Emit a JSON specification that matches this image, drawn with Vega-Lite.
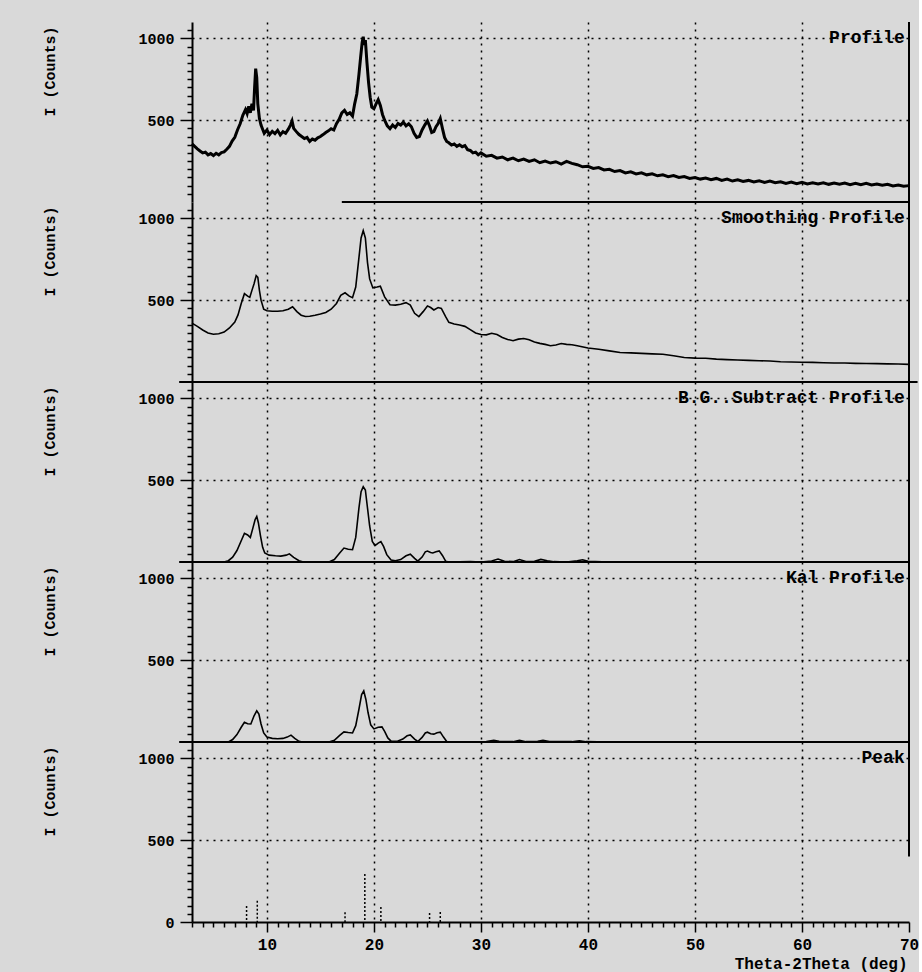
{
"$schema": "https://vega.github.io/schema/vega-lite/v6.json",
"background": "#d9d9d9",
"padding": {"left": 42, "top": 21, "right": 0, "bottom": 12},
"spacing": 0,
"bounds": "flush",
"datasets": {
"profile": [
{"x":3.0,"y":355},{"x":3.25,"y":340},{"x":3.5,"y":325},{"x":3.75,"y":312},{"x":4.0,"y":300},{"x":4.25,"y":305},{"x":4.5,"y":288},{"x":4.75,"y":296},{"x":5.0,"y":284},{"x":5.25,"y":298},{"x":5.5,"y":288},{"x":5.75,"y":302},{"x":6.0,"y":306},{"x":6.25,"y":322},{"x":6.5,"y":340},{"x":6.75,"y":372},{"x":7.0,"y":395},{"x":7.25,"y":440},{"x":7.5,"y":478},{"x":7.75,"y":530},{"x":8.0,"y":565},{"x":8.15,"y":540},{"x":8.3,"y":585},{"x":8.45,"y":545},{"x":8.6,"y":600},{"x":8.75,"y":560},{"x":8.85,"y":700},{"x":8.95,"y":815},{"x":9.05,"y":760},{"x":9.15,"y":600},{"x":9.3,"y":510},{"x":9.45,"y":470},{"x":9.6,"y":445},{"x":9.75,"y":420},{"x":10.0,"y":440},{"x":10.25,"y":412},{"x":10.5,"y":432},{"x":10.75,"y":418},{"x":11.0,"y":438},{"x":11.25,"y":410},{"x":11.5,"y":430},{"x":11.75,"y":420},{"x":12.0,"y":445},{"x":12.2,"y":470},{"x":12.35,"y":495},{"x":12.5,"y":450},{"x":12.75,"y":430},{"x":13.0,"y":412},{"x":13.25,"y":400},{"x":13.5,"y":388},{"x":13.75,"y":395},{"x":14.0,"y":370},{"x":14.25,"y":385},{"x":14.5,"y":378},{"x":14.75,"y":392},{"x":15.0,"y":400},{"x":15.25,"y":412},{"x":15.5,"y":425},{"x":15.75,"y":435},{"x":16.0,"y":448},{"x":16.25,"y":440},{"x":16.5,"y":478},{"x":16.75,"y":505},{"x":17.0,"y":545},{"x":17.25,"y":560},{"x":17.5,"y":535},{"x":17.75,"y":545},{"x":18.0,"y":525},{"x":18.2,"y":600},{"x":18.4,"y":660},{"x":18.6,"y":780},{"x":18.75,"y":880},{"x":18.9,"y":975},{"x":19.0,"y":1010},{"x":19.1,"y":960},{"x":19.2,"y":990},{"x":19.35,"y":850},{"x":19.5,"y":730},{"x":19.65,"y":640},{"x":19.8,"y":580},{"x":20.0,"y":570},{"x":20.2,"y":600},{"x":20.4,"y":625},{"x":20.6,"y":590},{"x":20.8,"y":535},{"x":21.0,"y":500},{"x":21.25,"y":465},{"x":21.5,"y":448},{"x":21.75,"y":470},{"x":22.0,"y":455},{"x":22.25,"y":480},{"x":22.5,"y":470},{"x":22.75,"y":488},{"x":23.0,"y":465},{"x":23.25,"y":478},{"x":23.5,"y":460},{"x":23.75,"y":420},{"x":24.0,"y":395},{"x":24.25,"y":400},{"x":24.5,"y":440},{"x":24.75,"y":470},{"x":25.0,"y":495},{"x":25.2,"y":465},{"x":25.4,"y":425},{"x":25.6,"y":430},{"x":25.8,"y":460},{"x":26.0,"y":480},{"x":26.2,"y":510},{"x":26.4,"y":450},{"x":26.6,"y":395},{"x":26.8,"y":370},{"x":27.0,"y":362},{"x":27.25,"y":348},{"x":27.5,"y":355},{"x":27.75,"y":340},{"x":28.0,"y":350},{"x":28.25,"y":338},{"x":28.5,"y":345},{"x":28.75,"y":320},{"x":29.0,"y":315},{"x":29.25,"y":300},{"x":29.5,"y":305},{"x":29.75,"y":288},{"x":30.0,"y":300},{"x":30.5,"y":280},{"x":31.0,"y":285},{"x":31.5,"y":268},{"x":32.0,"y":275},{"x":32.5,"y":258},{"x":33.0,"y":268},{"x":33.5,"y":252},{"x":34.0,"y":262},{"x":34.5,"y":248},{"x":35.0,"y":258},{"x":35.5,"y":240},{"x":36.0,"y":250},{"x":36.5,"y":238},{"x":37.0,"y":246},{"x":37.5,"y":232},{"x":38.0,"y":248},{"x":38.5,"y":236},{"x":39.0,"y":228},{"x":39.5,"y":215},{"x":40.0,"y":218},{"x":40.5,"y":205},{"x":41.0,"y":210},{"x":41.5,"y":196},{"x":42.0,"y":200},{"x":42.5,"y":186},{"x":43.0,"y":192},{"x":43.5,"y":178},{"x":44.0,"y":184},{"x":44.5,"y":172},{"x":45.0,"y":178},{"x":45.5,"y":166},{"x":46.0,"y":172},{"x":46.5,"y":160},{"x":47.0,"y":166},{"x":47.5,"y":155},{"x":48.0,"y":162},{"x":48.5,"y":150},{"x":49.0,"y":156},{"x":49.5,"y":144},{"x":50.0,"y":150},{"x":50.5,"y":140},{"x":51.0,"y":146},{"x":51.5,"y":136},{"x":52.0,"y":144},{"x":52.5,"y":132},{"x":53.0,"y":140},{"x":53.5,"y":128},{"x":54.0,"y":136},{"x":54.5,"y":126},{"x":55.0,"y":132},{"x":55.5,"y":122},{"x":56.0,"y":130},{"x":56.5,"y":120},{"x":57.0,"y":128},{"x":57.5,"y":118},{"x":58.0,"y":124},{"x":58.5,"y":114},{"x":59.0,"y":122},{"x":59.5,"y":112},{"x":60.0,"y":120},{"x":60.5,"y":110},{"x":61.0,"y":118},{"x":61.5,"y":110},{"x":62.0,"y":118},{"x":62.5,"y":108},{"x":63.0,"y":116},{"x":63.5,"y":108},{"x":64.0,"y":116},{"x":64.5,"y":106},{"x":65.0,"y":114},{"x":65.5,"y":106},{"x":66.0,"y":114},{"x":66.5,"y":104},{"x":67.0,"y":110},{"x":67.5,"y":102},{"x":68.0,"y":108},{"x":68.5,"y":98},{"x":69.0,"y":104},{"x":69.5,"y":96},{"x":70.0,"y":100}
],
"smooth": [
{"x":3.0,"y":360},{"x":3.5,"y":340},{"x":4.0,"y":318},{"x":4.5,"y":300},{"x":5.0,"y":292},{"x":5.5,"y":295},{"x":6.0,"y":305},{"x":6.5,"y":330},{"x":7.0,"y":366},{"x":7.3,"y":410},{"x":7.6,"y":480},{"x":7.9,"y":540},{"x":8.2,"y":525},{"x":8.4,"y":518},{"x":8.6,"y":560},{"x":8.8,"y":600},{"x":9.0,"y":650},{"x":9.15,"y":640},{"x":9.3,"y":560},{"x":9.45,"y":500},{"x":9.7,"y":445},{"x":10.0,"y":435},{"x":10.5,"y":432},{"x":11.0,"y":432},{"x":11.5,"y":435},{"x":12.0,"y":445},{"x":12.4,"y":460},{"x":12.8,"y":430},{"x":13.2,"y":408},{"x":13.6,"y":400},{"x":14.0,"y":402},{"x":14.5,"y":408},{"x":15.0,"y":415},{"x":15.5,"y":425},{"x":16.0,"y":445},{"x":16.5,"y":480},{"x":16.9,"y":530},{"x":17.3,"y":545},{"x":17.7,"y":525},{"x":18.0,"y":515},{"x":18.3,"y":580},{"x":18.6,"y":760},{"x":18.8,"y":880},{"x":19.0,"y":925},{"x":19.2,"y":880},{"x":19.4,"y":730},{"x":19.6,"y":630},{"x":19.9,"y":575},{"x":20.3,"y":580},{"x":20.6,"y":585},{"x":21.0,"y":520},{"x":21.5,"y":472},{"x":22.0,"y":470},{"x":22.5,"y":475},{"x":23.0,"y":485},{"x":23.4,"y":470},{"x":23.8,"y":420},{"x":24.2,"y":400},{"x":24.6,"y":430},{"x":25.0,"y":465},{"x":25.3,"y":455},{"x":25.6,"y":440},{"x":26.0,"y":455},{"x":26.3,"y":450},{"x":26.7,"y":400},{"x":27.0,"y":365},{"x":27.5,"y":355},{"x":28.0,"y":348},{"x":28.5,"y":340},{"x":29.0,"y":320},{"x":29.5,"y":300},{"x":30.0,"y":290},{"x":30.5,"y":288},{"x":31.0,"y":298},{"x":31.5,"y":290},{"x":32.0,"y":272},{"x":32.5,"y":260},{"x":33.0,"y":252},{"x":33.5,"y":262},{"x":34.0,"y":266},{"x":34.5,"y":258},{"x":35.0,"y":245},{"x":35.5,"y":236},{"x":36.0,"y":230},{"x":36.5,"y":222},{"x":37.0,"y":226},{"x":37.5,"y":235},{"x":38.0,"y":230},{"x":38.5,"y":228},{"x":39.0,"y":222},{"x":40.0,"y":208},{"x":41.0,"y":200},{"x":42.0,"y":190},{"x":43.0,"y":180},{"x":44.0,"y":178},{"x":45.0,"y":175},{"x":46.0,"y":172},{"x":47.0,"y":170},{"x":48.0,"y":160},{"x":49.0,"y":150},{"x":50.0,"y":146},{"x":51.0,"y":145},{"x":52.0,"y":140},{"x":53.0,"y":137},{"x":54.0,"y":134},{"x":55.0,"y":132},{"x":56.0,"y":130},{"x":57.0,"y":128},{"x":58.0,"y":124},{"x":59.0,"y":122},{"x":60.0,"y":121},{"x":61.0,"y":120},{"x":62.0,"y":118},{"x":63.0,"y":116},{"x":64.0,"y":116},{"x":65.0,"y":114},{"x":66.0,"y":113},{"x":67.0,"y":112},{"x":68.0,"y":111},{"x":69.0,"y":110},{"x":70.0,"y":108}
],
"bgsub": [
{"x":3.0,"y":0},{"x":6.0,"y":0},{"x":6.4,"y":8},{"x":6.8,"y":30},{"x":7.2,"y":70},{"x":7.6,"y":130},{"x":7.9,"y":175},{"x":8.2,"y":165},{"x":8.45,"y":150},{"x":8.7,"y":210},{"x":8.9,"y":260},{"x":9.05,"y":278},{"x":9.2,"y":240},{"x":9.4,"y":160},{"x":9.6,"y":90},{"x":9.8,"y":55},{"x":10.2,"y":42},{"x":10.8,"y":38},{"x":11.3,"y":36},{"x":11.8,"y":42},{"x":12.1,"y":50},{"x":12.5,"y":28},{"x":13.0,"y":8},{"x":13.4,"y":0},{"x":15.8,"y":0},{"x":16.3,"y":15},{"x":16.8,"y":55},{"x":17.2,"y":85},{"x":17.6,"y":78},{"x":18.0,"y":75},{"x":18.3,"y":150},{"x":18.6,"y":330},{"x":18.8,"y":430},{"x":19.0,"y":460},{"x":19.2,"y":440},{"x":19.4,"y":330},{"x":19.6,"y":220},{"x":19.85,"y":125},{"x":20.1,"y":100},{"x":20.4,"y":115},{"x":20.65,"y":125},{"x":20.9,"y":95},{"x":21.2,"y":45},{"x":21.6,"y":12},{"x":22.0,"y":8},{"x":22.5,"y":15},{"x":23.0,"y":38},{"x":23.4,"y":48},{"x":23.8,"y":22},{"x":24.1,"y":5},{"x":24.5,"y":30},{"x":24.8,"y":62},{"x":25.0,"y":67},{"x":25.3,"y":58},{"x":25.5,"y":55},{"x":25.8,"y":62},{"x":26.1,"y":68},{"x":26.4,"y":40},{"x":26.7,"y":5},{"x":27.0,"y":0},{"x":29.0,"y":2},{"x":30.0,"y":0},{"x":31.0,"y":6},{"x":31.6,"y":18},{"x":32.2,"y":5},{"x":33.0,"y":2},{"x":33.6,"y":15},{"x":34.2,"y":3},{"x":35.0,"y":4},{"x":35.6,"y":16},{"x":36.2,"y":8},{"x":36.8,"y":2},{"x":38.0,"y":0},{"x":39.0,"y":8},{"x":39.5,"y":14},{"x":40.0,"y":4},{"x":42.0,"y":0},{"x":70.0,"y":0}
],
"kal": [
{"x":3.0,"y":0},{"x":6.4,"y":0},{"x":6.8,"y":15},{"x":7.2,"y":45},{"x":7.6,"y":90},{"x":7.9,"y":120},{"x":8.2,"y":112},{"x":8.5,"y":110},{"x":8.8,"y":160},{"x":9.05,"y":190},{"x":9.25,"y":170},{"x":9.45,"y":110},{"x":9.7,"y":55},{"x":10.0,"y":30},{"x":10.5,"y":22},{"x":11.0,"y":20},{"x":11.5,"y":22},{"x":11.9,"y":30},{"x":12.25,"y":42},{"x":12.6,"y":22},{"x":13.0,"y":4},{"x":13.3,"y":0},{"x":15.8,"y":0},{"x":16.3,"y":10},{"x":16.8,"y":40},{"x":17.2,"y":62},{"x":17.6,"y":58},{"x":18.0,"y":55},{"x":18.3,"y":100},{"x":18.6,"y":200},{"x":18.85,"y":290},{"x":19.05,"y":312},{"x":19.25,"y":260},{"x":19.45,"y":180},{"x":19.7,"y":105},{"x":20.0,"y":80},{"x":20.4,"y":90},{"x":20.75,"y":92},{"x":21.0,"y":65},{"x":21.3,"y":25},{"x":21.6,"y":5},{"x":22.2,"y":5},{"x":22.7,"y":18},{"x":23.1,"y":38},{"x":23.4,"y":43},{"x":23.8,"y":18},{"x":24.1,"y":3},{"x":24.5,"y":28},{"x":24.8,"y":55},{"x":25.0,"y":60},{"x":25.3,"y":50},{"x":25.6,"y":48},{"x":25.9,"y":56},{"x":26.2,"y":60},{"x":26.5,"y":30},{"x":26.8,"y":3},{"x":27.2,"y":0},{"x":29.0,"y":0},{"x":30.5,"y":3},{"x":31.2,"y":10},{"x":31.7,"y":4},{"x":33.0,"y":2},{"x":33.6,"y":10},{"x":34.2,"y":2},{"x":35.3,"y":4},{"x":35.8,"y":10},{"x":36.4,"y":3},{"x":38.5,"y":2},{"x":39.2,"y":7},{"x":39.8,"y":2},{"x":42.0,"y":0},{"x":70.0,"y":0}
],
"peaks": [
{"x":8.1,"y":98},{"x":9.1,"y":130},{"x":17.3,"y":60},{"x":19.15,"y":293},{"x":20.65,"y":92},{"x":25.2,"y":55},{"x":26.2,"y":61}
]
},
"vconcat": [
{
"width": 717, "height": 180,
"layer": [
{"data": {"name": "profile"}, "mark": {"type": "line", "color": "black", "strokeWidth": 3},
 "encoding": {
  "x": {"field": "x", "type": "quantitative", "scale": {"domain": [3, 70], "nice": false, "zero": false},
        "axis": {"title": null, "values": [10,20,30,40,50,60], "tickCount": 1000, "labels": false, "ticks": false, "domain": false, "grid": true}},
  "y": {"field": "y", "type": "quantitative", "scale": {"domain": [0, 1100], "nice": false},
        "axis": {"title": "I (Counts)", "tickCount": 1000, "values": [50,100,150,200,250,300,350,400,450,500,550,600,650,700,750,800,850,900,950,1000,1050],
                 "labelExpr": "datum.value === 500 || datum.value === 1000 ? datum.label : ''",
                 "tickSize": {"condition": {"test": "datum.value % 500 === 0", "value": 12}, "value": 5},
                 "gridOpacity": {"condition": {"test": "datum.value === 500 || datum.value === 1000", "value": 1}, "value": 0}}}
 }},
{"data": {"values": [{}]}, "mark": {"type": "rule", "color": "black", "strokeWidth": 2},
 "encoding": {"x": {"datum": 17, "type": "quantitative"}, "x2": {"datum": 70}, "y": {"datum": 0, "type": "quantitative"}}},
{"data": {"values": [{}]}, "mark": {"type": "rule", "color": "black", "strokeWidth": 2},
 "encoding": {"x": {"datum": 70, "type": "quantitative"}, "y": {"datum": 0, "type": "quantitative"}, "y2": {"datum": 1100}}},
{"data": {"values": [{}]}, "mark": {"type": "text", "align": "right", "baseline": "middle", "font": "Liberation Mono", "fontWeight": "bold", "fontSize": 18, "color": "black"},
 "encoding": {"x": {"datum": 69.6, "type": "quantitative"}, "y": {"datum": 1000, "type": "quantitative"}, "text": {"value": "Profile"}}}
]
},
{
"width": 717, "height": 180,
"layer": [
{"data": {"name": "smooth"}, "mark": {"type": "line", "color": "black", "strokeWidth": 1.6},
 "encoding": {
  "x": {"field": "x", "type": "quantitative", "scale": {"domain": [3, 70], "nice": false, "zero": false},
        "axis": {"title": null, "values": [10,20,30,40,50,60], "tickCount": 1000, "labels": false, "ticks": false, "domain": false, "grid": true}},
  "y": {"field": "y", "type": "quantitative", "scale": {"domain": [0, 1100], "nice": false},
        "axis": {"title": "I (Counts)", "tickCount": 1000, "values": [50,100,150,200,250,300,350,400,450,500,550,600,650,700,750,800,850,900,950,1000,1050],
                 "labelExpr": "datum.value === 500 || datum.value === 1000 ? datum.label : ''",
                 "tickSize": {"condition": {"test": "datum.value % 500 === 0", "value": 12}, "value": 5},
                 "gridOpacity": {"condition": {"test": "datum.value === 500 || datum.value === 1000", "value": 1}, "value": 0}}}
 }},
{"data": {"values": [{}]}, "mark": {"type": "rule", "color": "black", "strokeWidth": 2},
 "encoding": {"x": {"datum": 1.8, "type": "quantitative"}, "x2": {"datum": 70.8}, "y": {"datum": 0, "type": "quantitative"}}},
{"data": {"values": [{}]}, "mark": {"type": "rule", "color": "black", "strokeWidth": 2},
 "encoding": {"x": {"datum": 70, "type": "quantitative"}, "y": {"datum": 0, "type": "quantitative"}, "y2": {"datum": 1100}}},
{"data": {"values": [{}]}, "mark": {"type": "text", "align": "right", "baseline": "middle", "font": "Liberation Mono", "fontWeight": "bold", "fontSize": 18, "color": "black"},
 "encoding": {"x": {"datum": 69.6, "type": "quantitative"}, "y": {"datum": 1000, "type": "quantitative"}, "text": {"value": "Smoothing Profile"}}}
]
},
{
"width": 717, "height": 180,
"layer": [
{"data": {"name": "bgsub"}, "mark": {"type": "line", "color": "black", "strokeWidth": 1.6},
 "encoding": {
  "x": {"field": "x", "type": "quantitative", "scale": {"domain": [3, 70], "nice": false, "zero": false},
        "axis": {"title": null, "values": [10,20,30,40,50,60], "tickCount": 1000, "labels": false, "ticks": false, "domain": false, "grid": true}},
  "y": {"field": "y", "type": "quantitative", "scale": {"domain": [0, 1100], "nice": false},
        "axis": {"title": "I (Counts)", "tickCount": 1000, "values": [50,100,150,200,250,300,350,400,450,500,550,600,650,700,750,800,850,900,950,1000,1050],
                 "labelExpr": "datum.value === 500 || datum.value === 1000 ? datum.label : ''",
                 "tickSize": {"condition": {"test": "datum.value % 500 === 0", "value": 12}, "value": 5},
                 "gridOpacity": {"condition": {"test": "datum.value === 500 || datum.value === 1000", "value": 1}, "value": 0}}}
 }},
{"data": {"values": [{}]}, "mark": {"type": "rule", "color": "black", "strokeWidth": 2},
 "encoding": {"x": {"datum": 1.8, "type": "quantitative"}, "x2": {"datum": 70}, "y": {"datum": 0, "type": "quantitative"}}},
{"data": {"values": [{}]}, "mark": {"type": "rule", "color": "black", "strokeWidth": 2},
 "encoding": {"x": {"datum": 70, "type": "quantitative"}, "y": {"datum": 0, "type": "quantitative"}, "y2": {"datum": 1100}}},
{"data": {"values": [{}]}, "mark": {"type": "text", "align": "right", "baseline": "middle", "font": "Liberation Mono", "fontWeight": "bold", "fontSize": 18, "color": "black"},
 "encoding": {"x": {"datum": 69.6, "type": "quantitative"}, "y": {"datum": 1000, "type": "quantitative"}, "text": {"value": "B.G..Subtract Profile"}}}
]
},
{
"width": 717, "height": 180,
"layer": [
{"data": {"name": "kal"}, "mark": {"type": "line", "color": "black", "strokeWidth": 1.6},
 "encoding": {
  "x": {"field": "x", "type": "quantitative", "scale": {"domain": [3, 70], "nice": false, "zero": false},
        "axis": {"title": null, "values": [10,20,30,40,50,60], "tickCount": 1000, "labels": false, "ticks": false, "domain": false, "grid": true}},
  "y": {"field": "y", "type": "quantitative", "scale": {"domain": [0, 1100], "nice": false},
        "axis": {"title": "I (Counts)", "tickCount": 1000, "values": [50,100,150,200,250,300,350,400,450,500,550,600,650,700,750,800,850,900,950,1000,1050],
                 "labelExpr": "datum.value === 500 || datum.value === 1000 ? datum.label : ''",
                 "tickSize": {"condition": {"test": "datum.value % 500 === 0", "value": 12}, "value": 5},
                 "gridOpacity": {"condition": {"test": "datum.value === 500 || datum.value === 1000", "value": 1}, "value": 0}}}
 }},
{"data": {"values": [{}]}, "mark": {"type": "rule", "color": "black", "strokeWidth": 2},
 "encoding": {"x": {"datum": 1.8, "type": "quantitative"}, "x2": {"datum": 70}, "y": {"datum": 0, "type": "quantitative"}}},
{"data": {"values": [{}]}, "mark": {"type": "rule", "color": "black", "strokeWidth": 2},
 "encoding": {"x": {"datum": 70, "type": "quantitative"}, "y": {"datum": 0, "type": "quantitative"}, "y2": {"datum": 1100}}},
{"data": {"values": [{}]}, "mark": {"type": "text", "align": "right", "baseline": "middle", "font": "Liberation Mono", "fontWeight": "bold", "fontSize": 18, "color": "black"},
 "encoding": {"x": {"datum": 69.6, "type": "quantitative"}, "y": {"datum": 1000, "type": "quantitative"}, "text": {"value": "Kal Profile"}}}
]
},
{
"width": 717, "height": 180,
"layer": [
{"data": {"name": "peaks"}, "mark": {"type": "rule", "color": "black", "strokeWidth": 1.5, "strokeDash": [2, 2]},
 "encoding": {
  "x": {"field": "x", "type": "quantitative", "scale": {"domain": [3, 70], "nice": false, "zero": false},
        "axis": {"title": "Theta-2Theta (deg)", "tickCount": 1000, "values": [3,4,5,6,7,8,9,10,11,12,13,14,15,16,17,18,19,20,21,22,23,24,25,26,27,28,29,30,31,32,33,34,35,36,37,38,39,40,41,42,43,44,45,46,47,48,49,50,51,52,53,54,55,56,57,58,59,60,61,62,63,64,65,66,67,68,69,70],
                 "labelExpr": "datum.value % 10 === 0 ? datum.label : ''",
                 "labelOverlap": false, "labelBound": false, "labelFlush": false,
                 "labelFontSize": 16, "labelPadding": 4, "domainWidth": 2,
                 "tickSize": {"condition": {"test": "datum.value % 10 === 0", "value": 10}, "value": 5},
                 "grid": true,
                 "gridOpacity": {"condition": {"test": "datum.value % 10 === 0 && datum.value < 70", "value": 1}, "value": 0},
                 "titleX": 715, "titleY": 41, "titleAlign": "right", "titleBaseline": "middle", "titleFontSize": 16}},
  "y": {"field": "y", "type": "quantitative", "scale": {"domain": [0, 1100], "nice": false},
        "axis": {"title": "I (Counts)", "tickCount": 1000, "values": [0,50,100,150,200,250,300,350,400,450,500,550,600,650,700,750,800,850,900,950,1000,1050],
                 "labelExpr": "datum.value % 500 === 0 ? datum.label : ''",
                 "tickSize": {"condition": {"test": "datum.value % 500 === 0", "value": 12}, "value": 5},
                 "gridOpacity": {"condition": {"test": "datum.value === 500 || datum.value === 1000", "value": 1}, "value": 0}}},
  "y2": {"datum": 0}
 }},
{"data": {"values": [{}]}, "mark": {"type": "rule", "color": "black", "strokeWidth": 2},
 "encoding": {"x": {"datum": 70, "type": "quantitative"}, "y": {"datum": 400, "type": "quantitative"}, "y2": {"datum": 1100}}},
{"data": {"values": [{}]}, "mark": {"type": "text", "align": "right", "baseline": "middle", "font": "Liberation Mono", "fontWeight": "bold", "fontSize": 18, "color": "black"},
 "encoding": {"x": {"datum": 69.6, "type": "quantitative"}, "y": {"datum": 1000, "type": "quantitative"}, "text": {"value": "Peak"}}}
]
}
],
"config": {
 "view": {"stroke": null},
 "font": "Liberation Mono",
 "axis": {
  "labelFont": "Liberation Mono", "labelFontWeight": "bold", "labelColor": "black", "labelFontSize": 15, "labelPadding": 6,
  "titleFont": "Liberation Mono", "titleFontWeight": "bold", "titleColor": "black", "titleFontSize": 15,
  "domainColor": "black", "domainWidth": 2, "tickColor": "black", "tickWidth": 1.5,
  "gridColor": "black", "gridDash": [2, 5], "gridWidth": 1.5, "format": "d"
 },
 "axisLeft": {"titleX": -143, "titleY": 4, "titleAlign": "right", "titleBaseline": "middle", "titleAngle": 270}
}
}
